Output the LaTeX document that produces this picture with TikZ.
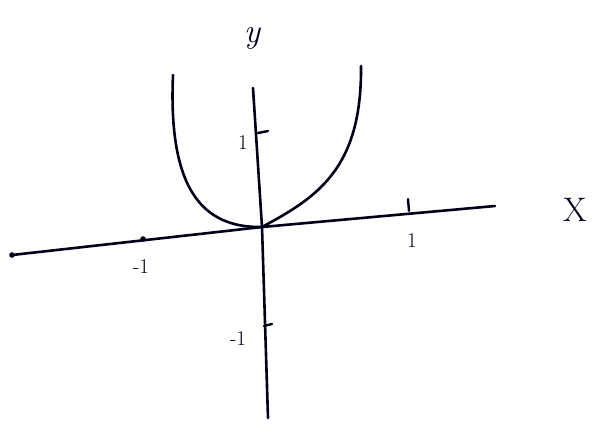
\documentclass[tikz,border=0pt]{standalone}
\begin{document}
\begin{tikzpicture}[x=1pt,y=-1pt,
  ink/.style={line width=2.6pt,line cap=round,line join=round,black!90!blue},
  tick/.style={line width=2.4pt,line cap=round,black!90!blue},
  lbl/.style={inner sep=0pt,font=\fontsize{21}{21}\selectfont,black!90!blue},
  axlbl/.style={inner sep=0pt,font=\fontsize{34}{34}\selectfont,black!90!blue}]
\useasboundingbox (0,0) rectangle (592,424);
% axes
\coordinate (xl) at (12,255);
\coordinate (xr) at (495,206);
\coordinate (yt) at (253,88);
\coordinate (yb) at (268,418);
\coordinate (o) at (262,227);
\draw[ink] (xl) -- (o) -- (xr);
\draw[ink] (yt) -- (o) -- (yb);
\fill[black!90!blue] (xl) circle (2.8pt);
% curve
\coordinate (lt) at (173,75);
\coordinate (rt) at (361,66);
\draw[ink] (lt) .. controls (168,190) and (203,228) .. (o);
\draw[ink] (o) .. controls (318,197) and (362,168) .. (rt);
% ticks
\coordinate (ty1a) at (258,133); \coordinate (ty1b) at (268,131);
\draw[tick] (ty1a) -- (ty1b);
\coordinate (tym1a) at (264,326); \coordinate (tym1b) at (272,324);
\draw[tick] (tym1a) -- (tym1b);
\coordinate (tx1a) at (408,199); \coordinate (tx1b) at (409,211);
\draw[tick] (tx1a) -- (tx1b);
\coordinate (txm1) at (143,239);
\fill[black!90!blue] (txm1) circle (2.8pt);
% labels
\node[lbl] (l1y) at (243,143) {1};
\node[lbl] (l1x) at (412,241) {1};
\node[lbl] (lm1x) at (141,267) {-1};
\node[lbl] (lm1y) at (238,339) {-1};
\node[axlbl,font=\fontsize{34}{34}\selectfont\itshape] (ly) at (252,38) {y};
\node[axlbl] (lx) at (575,210) {X};
\end{tikzpicture}
\end{document}
